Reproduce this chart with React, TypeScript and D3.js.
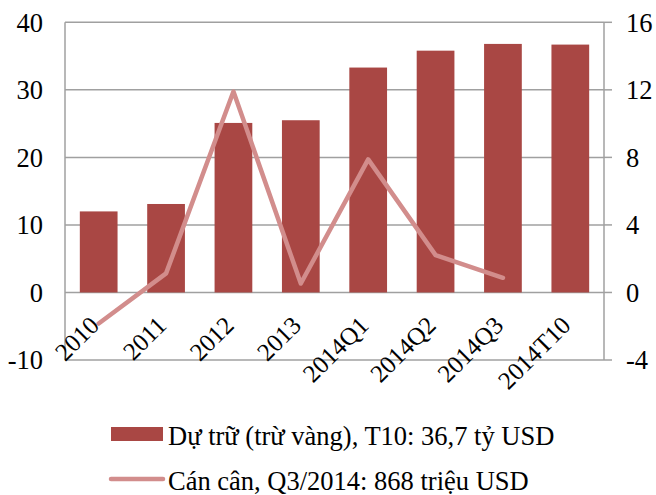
import React from "react";
import * as d3 from "d3";

const categories = ["2010", "2011", "2012", "2013", "2014Q1", "2014Q2", "2014Q3", "2014T10"];
const reserves = [12.0, 13.1, 25.1, 25.5, 33.3, 35.8, 36.8, 36.7];
const balance = [-1.84, 1.13, 11.9, 0.53, 7.88, 2.21, 0.868];
const leftTicks = [-10, 0, 10, 20, 30, 40];
const rightTicks = [-4, 0, 4, 8, 12, 16];

const W = 656;
const H = 495;
const m = { left: 65, right: 604, top: 22.3, bottom: 360 };
const font = "'Liberation Serif', 'Times New Roman', serif";
const barColor = "#A94744";
const lineColor = "#D28D8C";
const gridColor = "#A0A0A0";

const App = () => {
  const x = d3.scaleBand().domain(categories).range([m.left, m.right]).paddingInner(0.44).paddingOuter(0.22);
  const xc = (c: string) => (x(c) as number) + x.bandwidth() / 2;
  const yL = d3.scaleLinear().domain([-10, 40]).range([m.bottom, m.top]);
  const yR = d3.scaleLinear().domain([-4, 16]).range([m.bottom, m.top]);

  const line = d3
    .line<number>()
    .x((_, i) => xc(categories[i]))
    .y((d) => yR(d));

  return (
    <svg width={W} height={H} style={{ position: "absolute", left: 0, top: 0, background: "#fff" }}>
      {leftTicks.map((t) => (
        <line key={t} x1={m.left} x2={m.right} y1={yL(t)} y2={yL(t)} stroke={gridColor} strokeWidth={1.5} />
      ))}
      <line x1={m.left} x2={m.left} y1={m.top} y2={m.bottom} stroke={gridColor} strokeWidth={1.5} />
      <line x1={m.right} x2={m.right} y1={m.top} y2={m.bottom} stroke={gridColor} strokeWidth={1.5} />
      {rightTicks.map((t) => (
        <line key={t} x1={m.right} x2={m.right + 8} y1={yR(t)} y2={yR(t)} stroke={gridColor} strokeWidth={1.5} />
      ))}
      {categories.map((c, i) => (
        <rect key={c} x={x(c)} y={yL(reserves[i])} width={x.bandwidth()} height={yL(0) - yL(reserves[i])} fill={barColor} />
      ))}
      <path d={line(balance) || ""} fill="none" stroke={lineColor} strokeWidth={4.5} strokeLinejoin="round" strokeLinecap="round" />
      {leftTicks.map((t) => (
        <text key={t} x={43} y={yL(t)} dy="0.35em" textAnchor="end" fontFamily={font} fontSize={26.5} fill="#000">
          {t}
        </text>
      ))}
      {rightTicks.map((t) => (
        <text key={t} x={626} y={yR(t)} dy="0.35em" textAnchor="start" fontFamily={font} fontSize={26.5} fill="#000">
          {t}
        </text>
      ))}
      {categories.map((c) => (
        <text
          key={c}
          transform={`translate(${xc(c) - 4},${321}) rotate(-45)`}
          textAnchor="end"
          dy="0.33em"
          fontFamily={font}
          fontSize={25}
          fill="#000"
        >
          {c}
        </text>
      ))}
      <rect x={111} y={427} width={52} height={14} fill={barColor} />
      <text x={168} y={445} fontFamily={font} fontSize={26.5} fill="#000">
        Dự trữ (trừ vàng), T10: 36,7 tỷ USD
      </text>
      <line x1={111} x2={163} y1={479} y2={479} stroke={lineColor} strokeWidth={4.5} strokeLinecap="round" />
      <text x={168} y={490} fontFamily={font} fontSize={26.5} fill="#000">
        Cán cân, Q3/2014: 868 triệu USD
      </text>
    </svg>
  );
};

export default App;
